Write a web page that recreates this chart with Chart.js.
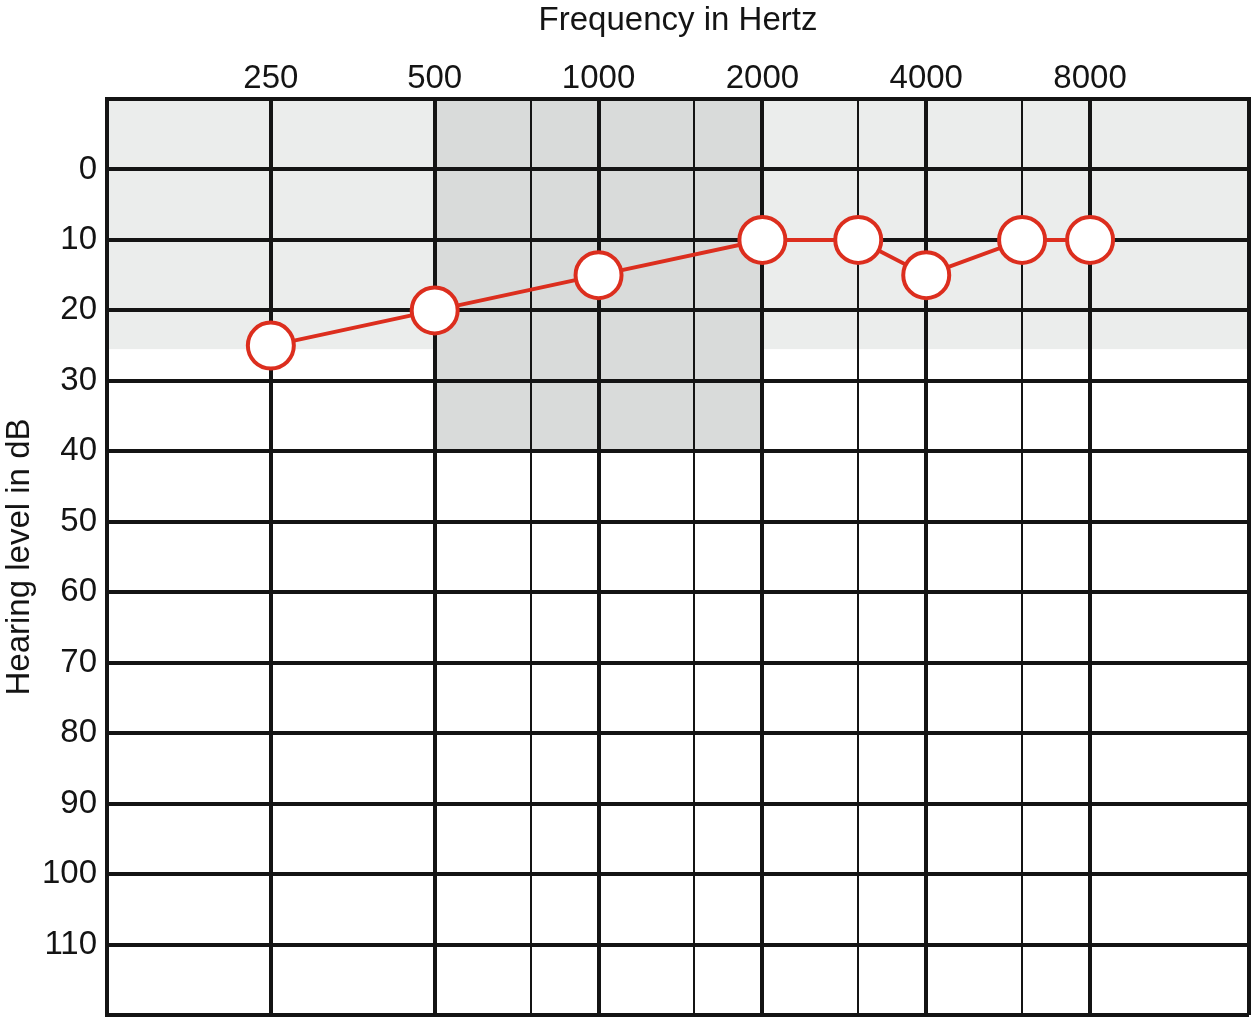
<!DOCTYPE html>
<html><head><meta charset="utf-8">
<script src="https://cdn.jsdelivr.net/npm/chart.js@4.4.1/dist/chart.umd.min.js"></script>
<style>html,body{margin:0;padding:0;background:#fff;overflow:hidden}#wrap{width:1254px;height:1017px}</style>
</head><body><div id="wrap"><canvas id="c" width="1254" height="1017"></canvas></div>
<script>
// ---- data ----
const frequencies = [250, 500, 1000, 2000, 3000, 4000, 6000, 8000];
const hearingLevels = [25, 20, 15, 10, 10, 15, 10, 10];
const octaveTicks = [250, 500, 1000, 2000, 4000, 8000];
const halfOctaveTicks = [750, 1500, 3000, 6000];
const freqRange = [125, 15670];
const dbRange = [-10, 120];
const dbTicks = [0, 10, 20, 30, 40, 50, 60, 70, 80, 90, 100, 110];
const normalBandDb = [-10, 25.5];
const speechBandFreq = [500, 2000];
const speechBandDb = [-10, 40];

const RED = '#dc2e1e';
const INK = '#141414';
const FONT = "'Liberation Sans', Arial, Helvetica, sans-serif";

const shading = {
  id: 'shading',
  beforeDraw(chart) {
    const { ctx, chartArea: a, scales: { x, y } } = chart;
    ctx.save();
    ctx.fillStyle = '#ebedec';
    let y0 = y.getPixelForValue(normalBandDb[0]), y1 = y.getPixelForValue(normalBandDb[1]);
    ctx.fillRect(a.left, y0, a.right - a.left, y1 - y0);
    ctx.fillStyle = '#d9dbda';
    const x0 = x.getPixelForValue(speechBandFreq[0]), x1 = x.getPixelForValue(speechBandFreq[1]);
    y0 = y.getPixelForValue(speechBandDb[0]); y1 = y.getPixelForValue(speechBandDb[1]);
    ctx.fillRect(x0, y0, x1 - x0, y1 - y0);
    ctx.restore();
  }
};

new Chart(document.getElementById('c'), {
  type: 'line',
  data: {
    datasets: [{
      data: frequencies.map((f, i) => ({ x: f, y: hearingLevels[i] })),
      borderColor: RED,
      borderWidth: 4,
      pointRadius: 23,
      pointHoverRadius: 23,
      pointBorderWidth: 4,
      pointBackgroundColor: '#ffffff',
      pointBorderColor: RED,
      tension: 0,
      clip: false
    }]
  },
  options: {
    responsive: false,
    animation: false,
    devicePixelRatio: 1,
    layout: { autoPadding: false, padding: { left: 0, top: 0, right: 5, bottom: 2 } },
    plugins: { legend: { display: false }, tooltip: { enabled: false } },
    scales: {
      x: {
        type: 'logarithmic',
        position: 'top',
        min: freqRange[0],
        max: freqRange[1],
        afterBuildTicks: s => {
          s.ticks = [freqRange[0], ...octaveTicks, ...halfOctaveTicks, freqRange[1]]
            .sort((a, b) => a - b).map(v => ({ value: v }));
        },
        afterFit: s => { s.height = 99; s.paddingLeft = 0; s.paddingRight = 0; },
        ticks: {
          autoSkip: false, maxRotation: 0, minRotation: 0,
          padding: 0,
          color: INK,
          font: { family: FONT, size: 33 },
          callback: v => octaveTicks.includes(v) ? String(v) : ''
        },
        grid: {
          color: INK,
          lineWidth: c => (c.tick && halfOctaveTicks.includes(c.tick.value)) ? 2 : 4,
          drawTicks: false
        },
        border: { display: true, color: INK, width: 4 },
        title: {
          display: true, text: 'Frequency in Hertz', color: INK,
          font: { family: FONT, size: 33 }, padding: { top: 1, bottom: 0 }
        }
      },
      y: {
        type: 'linear',
        reverse: true,
        min: dbRange[0],
        max: dbRange[1],
        afterBuildTicks: s => {
          s.ticks = [dbRange[0], ...dbTicks, dbRange[1]].map(v => ({ value: v }));
        },
        afterFit: s => { s.width = 107; s.paddingTop = 0; s.paddingBottom = 0; },
        ticks: {
          autoSkip: false,
          padding: 10,
          color: INK,
          font: { family: FONT, size: 33 },
          callback: v => dbTicks.includes(v) ? String(v) : ''
        },
        grid: { color: INK, lineWidth: 4, drawTicks: false },
        border: { display: true, color: INK, width: 4 },
        title: {
          display: true, text: 'Hearing level in dB', color: INK,
          font: { family: FONT, size: 33 }, padding: { top: 0, bottom: 0 }
        }
      }
    }
  },
  plugins: [shading]
});
</script>
</body></html>
